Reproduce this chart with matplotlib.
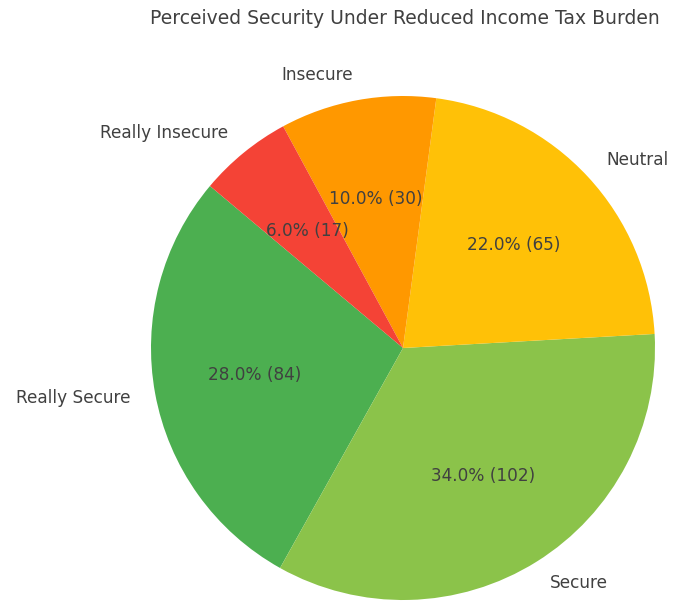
import matplotlib
matplotlib.use('Agg')
import matplotlib.pyplot as plt

# Survey responses: share of respondents and raw counts
categories = ['Really Secure', 'Secure', 'Neutral', 'Insecure', 'Really Insecure']
percentages = [28.0, 34.0, 22.0, 10.0, 6.0]
counts = [84, 102, 65, 30, 17]
colors = ['#4CAF50', '#8BC34A', '#FFC107', '#FF9800', '#F44336']

W, H, DPI = 675, 601, 100
cx, cy, r = 403, 253, 252  # pie centre (px from bottom-left) and radius

fig = plt.figure(figsize=(W / DPI, H / DPI), dpi=DPI)
ax = fig.add_axes([0, 0, 1, 1])

labels_iter = iter(zip(percentages, counts))


def fmt(pct):
    p, n = next(labels_iter)
    return f'{p:.1f}% ({n})'


wedges, texts, autotexts = ax.pie(
    percentages, labels=categories, colors=colors, startangle=140,
    autopct=fmt, pctdistance=0.6, labeldistance=1.1,
    textprops={'fontsize': 12.2, 'color': '#404040'})

ax.set_aspect('equal')
ax.set_xlim(-cx / r, (W - cx) / r)
ax.set_ylim(-cy / r, (H - cy) / r)
ax.axis('off')

fig.text(405 / W, 1 - 18 / H, 'Perceived Security Under Reduced Income Tax Burden',
         ha='center', va='center', fontsize=13.5, color='#404040')

fig.savefig('out.png', dpi=DPI)
